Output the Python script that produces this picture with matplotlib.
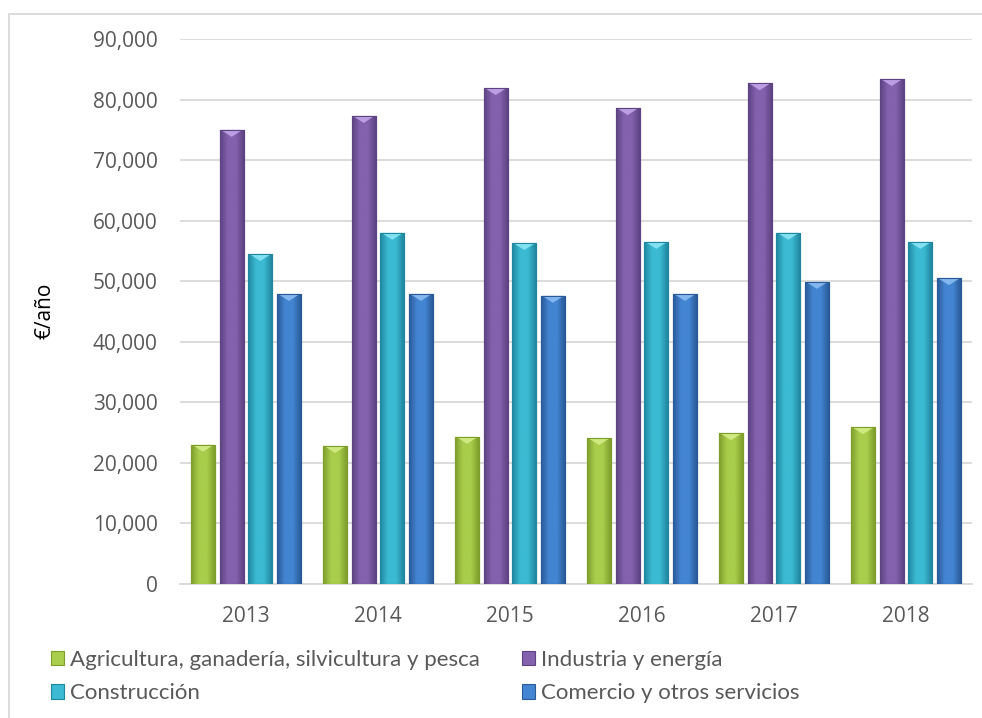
import numpy as np
import matplotlib.pyplot as plt
from matplotlib.colors import LinearSegmentedColormap
from matplotlib.patches import Rectangle

plt.rcParams['font.family'] = ['Open Sans', 'DejaVu Sans']

years = ['2013', '2014', '2015', '2016', '2017', '2018']
series = ['Agricultura, ganadería, silvicultura y pesca', 'Industria y energía',
          'Construcción', 'Comercio y otros servicios']
agricultura = [23000, 22800, 24300, 24100, 24900, 25900]
industria   = [75000, 77300, 81900, 78600, 82700, 83400]
construccion = [54500, 58000, 56300, 56500, 58000, 56500]
comercio    = [47900, 47900, 47600, 47900, 49900, 50500]
values = [agricultura, industria, construccion, comercio]

# (dark edge, light centre, top bevel)
colors = [('#7f9e2c', '#a9cd4c', '#d6ef8a'),
          ('#5e4383', '#8462ae', '#c7a9ee'),
          ('#21879f', '#3cbad3', '#8fe9f7'),
          ('#2a5a98', '#4385d2', '#8fc0f5')]

fig = plt.figure(figsize=(9.82, 7.18), dpi=100)
ax = fig.add_axes([180 / 982, 1 - 584 / 718, 792 / 982, 545 / 718])

x = np.arange(len(years))
width = 0.18
pitch = 0.217
ymax = 90000
bevel = ymax * 7 / 545

for i, (vals, (dark, light, top)) in enumerate(zip(values, colors)):
    cmap = LinearSegmentedColormap.from_list('g', [dark, light, light, dark])
    grad = np.linspace(0, 1, 64).reshape(1, -1)
    pos = x + (i - 1.5) * pitch
    bars = ax.bar(pos, vals, width, color=light, edgecolor=dark, linewidth=0.8, zorder=3)
    for b in bars:
        x0, w, h = b.get_x(), b.get_width(), b.get_height()
        im = ax.imshow(grad, cmap=cmap, extent=(x0, x0 + w, 0, h), aspect='auto',
                       zorder=3.5, interpolation='bicubic')
        im.set_clip_path(b)
        ax.fill([x0 + w * 0.04, x0 + w * 0.96, x0 + w / 2], [h, h, h - bevel],
                color=top, alpha=0.85, zorder=4, linewidth=0)
        ax.add_patch(Rectangle((x0, 0), w, h, fill=False, edgecolor=dark,
                               linewidth=0.8, zorder=5))

ax.set_xlim(-0.5, len(years) - 0.5)
ax.set_ylim(0, ymax)
ax.set_yticks(np.arange(0, ymax + 1, 10000))
ax.set_yticklabels([f'{v:,}' for v in range(0, ymax + 1, 10000)])
ax.set_xticks(x, years)
ax.tick_params(length=0, labelsize=15, labelcolor='#595959')
ax.tick_params(axis='y', pad=16)
ax.tick_params(axis='x', pad=16)
ax.grid(axis='y', color='#d9d9d9', linewidth=1.3, zorder=0)
ax.set_axisbelow(True)
for s in ['top', 'right', 'left']:
    ax.spines[s].set_visible(False)
ax.spines['bottom'].set_color('#d9d9d9')
ax.spines['bottom'].set_linewidth(1.3)

fig.text(45 / 982, 1 - 311 / 718, '€/año', rotation=90, ha='center', va='center',
         fontsize=15, color='#000000')

# outer chart border
fig.add_artist(Rectangle((9 / 982, -0.1), 1.2, 1 - 14 / 718 + 0.1, transform=fig.transFigure,
                         fill=False, edgecolor='#d9d9d9', linewidth=1.3))

# legend filled row by row as in the original
handles = [Rectangle((0, 0), 1, 1, facecolor=c[1], edgecolor=c[0], linewidth=0.8) for c in colors]
order = [0, 2, 1, 3]
leg = fig.legend([handles[k] for k in order], [series[k] for k in order], ncol=2,
                 loc='upper left', bbox_to_anchor=(31 / 982, 1 - 630 / 718), frameon=False,
                 prop={'family': 'Lato', 'size': 16}, handlelength=0.6, handleheight=0.6,
                 handletextpad=0.25, columnspacing=1.9, labelspacing=0.6,
                 labelcolor='#595959')

fig.savefig('out.png', dpi=100)
